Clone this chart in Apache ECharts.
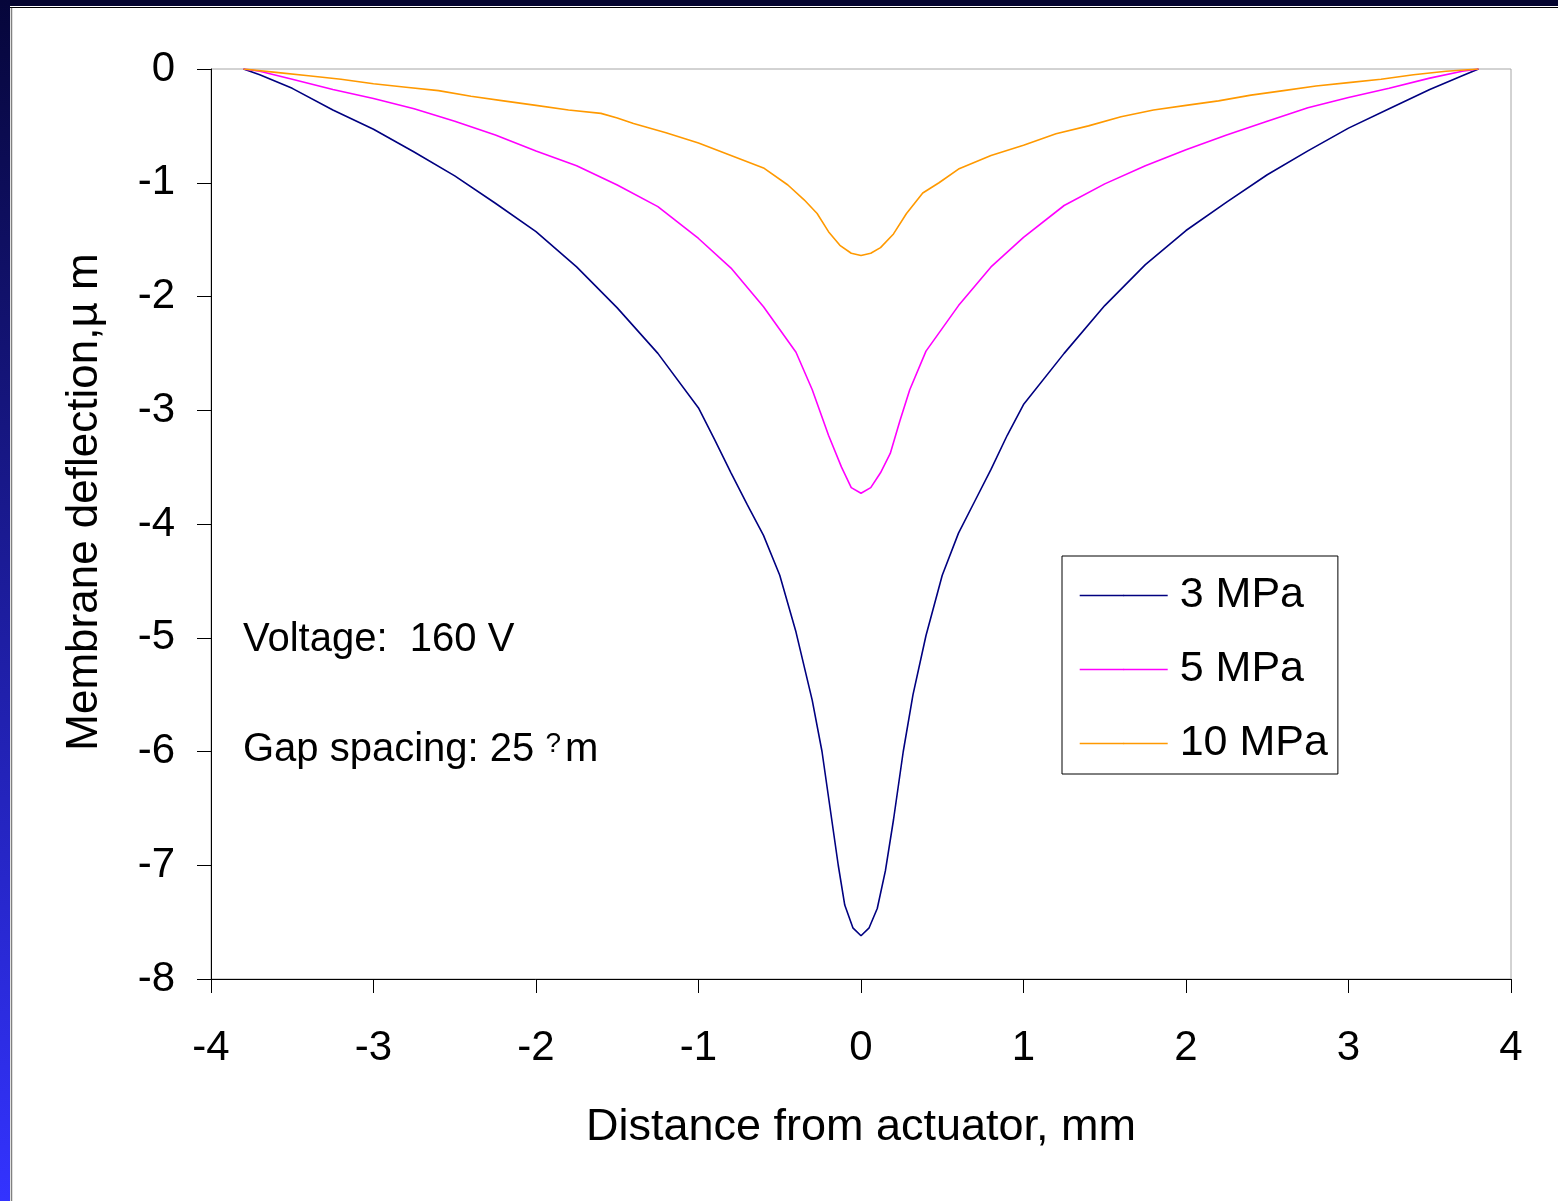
<!DOCTYPE html>
<html>
<head>
<meta charset="utf-8">
<script src="https://cdn.jsdelivr.net/npm/echarts@6/dist/echarts.min.js"></script>
<style>
html, body { margin: 0; padding: 0; background: #fff; }
#chart { width: 1558px; height: 1201px; }
</style>
</head>
<body>
<div id="chart"></div>
<script>
const seriesNames = ["3 MPa", "5 MPa", "10 MPa"];

// distance from actuator, mm / deflection, um
const x3 = [-3.8, -3.7, -3.5, -3.25, -3.0, -2.75, -2.5, -2.25, -2.0, -1.75, -1.5, -1.25, -1.0, -0.9, -0.8, -0.7, -0.6, -0.5, -0.4, -0.3, -0.24, -0.18, -0.14, -0.1, -0.05, 0.0,
  0.05, 0.1, 0.15, 0.2, 0.26, 0.32, 0.4, 0.5, 0.6, 0.7, 0.8, 0.9, 1.0, 1.25, 1.5, 1.75, 2.0, 2.25, 2.5, 2.75, 3.0, 3.25, 3.5, 3.7, 3.8];
const y3 = [0, -0.05, -0.17, -0.36, -0.53, -0.73, -0.94, -1.18, -1.43, -1.74, -2.1, -2.5, -2.98, -3.26, -3.55, -3.83, -4.1, -4.45, -4.95, -5.55, -6.0, -6.6, -7.0, -7.35, -7.55, -7.62,
  -7.55, -7.38, -7.05, -6.6, -6.0, -5.5, -4.98, -4.45, -4.08, -3.8, -3.52, -3.22, -2.95, -2.5, -2.08, -1.72, -1.42, -1.17, -0.93, -0.72, -0.52, -0.35, -0.18, -0.06, 0];

const x5 = [-3.8, -3.7, -3.5, -3.25, -3.0, -2.75, -2.5, -2.25, -2.0, -1.75, -1.5, -1.25, -1.0, -0.8, -0.6, -0.4, -0.3, -0.2, -0.12, -0.06, 0.0,
  0.06, 0.12, 0.18, 0.24, 0.3, 0.4, 0.6, 0.8, 1.0, 1.25, 1.5, 1.75, 2.0, 2.25, 2.5, 2.75, 3.0, 3.25, 3.5, 3.7, 3.8];
const y5 = [0, -0.02, -0.09, -0.18, -0.26, -0.35, -0.46, -0.58, -0.72, -0.85, -1.02, -1.21, -1.49, -1.75, -2.09, -2.49, -2.82, -3.22, -3.5, -3.68, -3.73,
  -3.68, -3.55, -3.38, -3.09, -2.82, -2.48, -2.08, -1.74, -1.48, -1.2, -1.01, -0.85, -0.71, -0.58, -0.46, -0.34, -0.25, -0.17, -0.08, -0.02, 0];

const x10 = [-3.8, -3.6, -3.4, -3.2, -3.0, -2.8, -2.6, -2.4, -2.2, -2.0, -1.8, -1.6, -1.5, -1.4, -1.2, -1.0, -0.8, -0.6, -0.45, -0.35, -0.27, -0.2, -0.13, -0.06, 0.0,
  0.06, 0.12, 0.2, 0.28, 0.38, 0.48, 0.6, 0.8, 1.0, 1.2, 1.4, 1.6, 1.8, 2.0, 2.2, 2.4, 2.6, 2.8, 3.0, 3.2, 3.4, 3.6, 3.8];
const y10 = [0, -0.03, -0.06, -0.09, -0.13, -0.16, -0.19, -0.24, -0.28, -0.32, -0.36, -0.39, -0.43, -0.48, -0.56, -0.65, -0.76, -0.87, -1.02, -1.15, -1.27, -1.43, -1.55, -1.62, -1.64,
  -1.62, -1.57, -1.45, -1.27, -1.09, -1.0, -0.88, -0.76, -0.67, -0.57, -0.5, -0.42, -0.36, -0.32, -0.28, -0.23, -0.19, -0.15, -0.12, -0.09, -0.05, -0.02, 0];

const colors = ["#000080", "#ff00ff", "#ff9900"];
const font = "'Liberation Sans', Arial, sans-serif";

function zip(xs, ys) {
  return xs.map((x, i) => [x, ys[i]]);
}

const chart = echarts.init(document.getElementById("chart"));
const option = {
  backgroundColor: "#ffffff",
  animation: false,
  textStyle: { fontFamily: font, color: "#000" },
  grid: {
    left: 211,
    top: 69,
    right: 47,
    bottom: 222,
    show: true,
    borderColor: "#a6a6a6",
    borderWidth: 1
  },
  xAxis: {
    type: "value",
    min: -4,
    max: 4,
    interval: 1,
    name: "Distance from actuator, mm",
    nameLocation: "middle",
    nameGap: 126,
    nameTextStyle: { fontSize: 45, fontFamily: font, color: "#000" },
    axisLine: { onZero: false, lineStyle: { color: "#000", width: 1 } },
    axisTick: { show: true, inside: false, length: 14, lineStyle: { color: "#000" } },
    axisLabel: { fontSize: 42, fontFamily: font, color: "#000", margin: 48 },
    splitLine: { show: false }
  },
  yAxis: {
    type: "value",
    min: -8,
    max: 0,
    interval: 1,
    axisLine: { show: true, onZero: false, lineStyle: { color: "#000", width: 1 } },
    axisTick: { show: true, inside: false, length: 14, lineStyle: { color: "#000" } },
    axisLabel: { fontSize: 42, fontFamily: font, color: "#000", margin: 36 },
    splitLine: { show: false }
  },
  legend: {
    orient: "vertical",
    left: 1062,
    top: 556,
    backgroundColor: "#fff",
    borderColor: "#000",
    borderWidth: 1,
    padding: [18, 10, 9, 17],
    itemWidth: 88,
    itemHeight: 2,
    itemGap: 31,
    textStyle: { fontSize: 43, fontFamily: font, color: "#000", lineHeight: 42, padding: [0, 0, 0, 7] },
    data: seriesNames.map((name, i) => ({
      name: name,
      lineStyle: { color: colors[i], width: 1.4 },
      itemStyle: { color: colors[i] }
    }))
  },
  graphic: [
    { type: "rect", left: 0, top: 0, shape: { width: 1558, height: 6 }, style: { fill: "#04042f" }, silent: true },
    {
      type: "rect", left: 0, top: 0, shape: { width: 10, height: 1201 },
      style: { fill: new echarts.graphic.LinearGradient(0, 0, 0, 1, [
        { offset: 0, color: "#06063a" }, { offset: 1, color: "#3333ff" }
      ]) },
      silent: true
    },
    { type: "line", shape: { x1: 10, y1: 7.5, x2: 1558, y2: 7.5 }, style: { stroke: "#000", lineWidth: 1 }, silent: true },
    { type: "line", shape: { x1: 11.5, y1: 8, x2: 11.5, y2: 1201 }, style: { stroke: "#808080", lineWidth: 1.5 }, silent: true },
    {
      type: "text", x: 85, y: 502, rotation: Math.PI / 2,
      style: { text: "Membrane deflection,\u00b5 m", font: "44px " + font, fill: "#000", align: "center", verticalAlign: "middle" }
    },
    {
      type: "text", x: 243, y: 640,
      style: { text: "Voltage:  160 V", font: "40px " + font, fill: "#000", align: "left", verticalAlign: "middle" }
    },
    {
      type: "text", x: 243, y: 750,
      style: {
        text: "{a|Gap spacing: 25 }{b|?}{a|m}",
        align: "left",
        verticalAlign: "middle",
        rich: {
          a: { fontSize: 40, fontFamily: font, fill: "#000", color: "#000" },
          b: { fontSize: 28, fontFamily: font, color: "#000", verticalAlign: "top", padding: [0, 4, 0, 0] }
        }
      }
    }
  ],
  series: [
    { name: seriesNames[0], type: "line", data: zip(x3, y3), symbol: "none", smooth: false, lineStyle: { color: colors[0], width: 1.6 }, itemStyle: { color: colors[0] } },
    { name: seriesNames[1], type: "line", data: zip(x5, y5), symbol: "none", smooth: false, lineStyle: { color: colors[1], width: 1.6 }, itemStyle: { color: colors[1] } },
    { name: seriesNames[2], type: "line", data: zip(x10, y10), symbol: "none", smooth: false, lineStyle: { color: colors[2], width: 1.6 }, itemStyle: { color: colors[2] } }
  ]
};
chart.setOption(option);
</script>
</body>
</html>
